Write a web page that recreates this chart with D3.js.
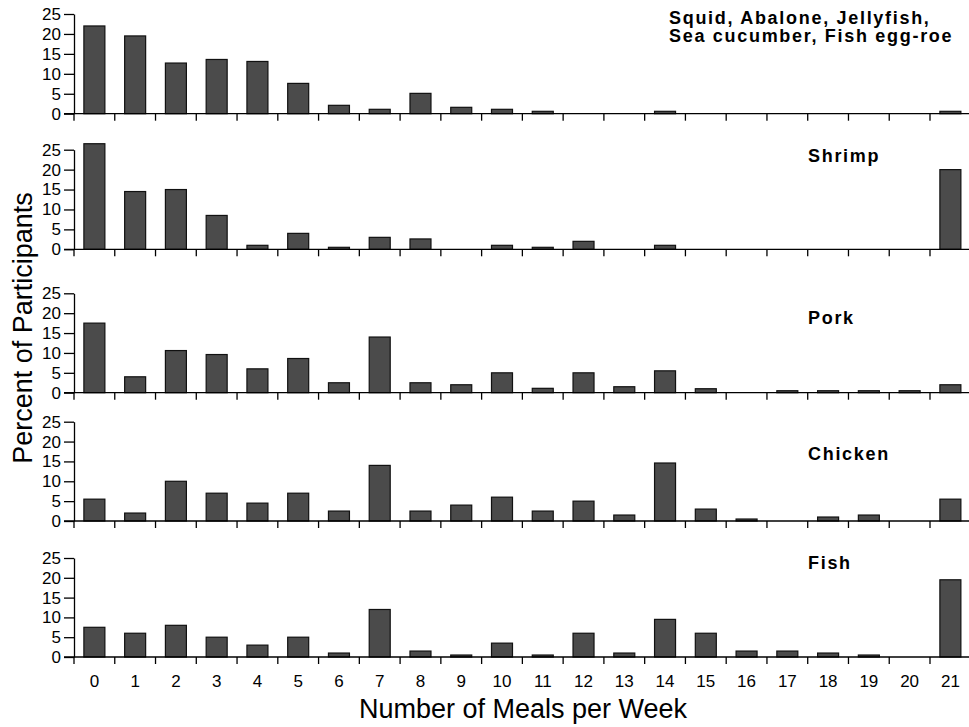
<!DOCTYPE html>
<html>
<head>
<meta charset="utf-8">
<script src="https://cdn.jsdelivr.net/npm/d3@7"></script>
<style>
  html, body { margin: 0; padding: 0; background: #fff; }
  svg { display: block; }
  text { font-family: "Liberation Sans", Arial, Helvetica, sans-serif; fill: #000; }
</style>
</head>
<body>
<svg id="chart" width="969" height="727"></svg>
<script>
// Meals per week (x categories)
const meals = d3.range(0, 22).map(String);
const yTicks = [0, 5, 10, 15, 20, 25];

// Percent of participants per number of meals per week
const squidEtc = [22, 19.5, 12.7, 13.6, 13.1, 7.6, 2.1, 1.1, 5.1, 1.6, 1.1, 0.6, 0, 0, 0.6, 0, 0, 0, 0, 0, 0, 0.6];
const shrimp   = [26.5, 14.5, 15, 8.5, 1, 4, 0.5, 3, 2.6, 0, 1, 0.5, 2, 0, 1, 0, 0, 0, 0, 0, 0, 20];
const pork     = [17.5, 4, 10.6, 9.6, 6, 8.6, 2.5, 14, 2.5, 2, 5, 1.1, 5, 1.5, 5.5, 1, 0, 0.5, 0.5, 0.5, 0.5, 2];
const chicken  = [5.5, 2, 10, 7, 4.5, 7, 2.5, 14, 2.5, 4, 6, 2.5, 5, 1.5, 14.6, 3, 0.5, 0, 1, 1.5, 0, 5.5];
const fish     = [7.5, 6, 8, 5, 3, 5, 1, 12, 1.5, 0.5, 3.5, 0.5, 6, 1, 9.5, 6, 1.5, 1.5, 1, 0.5, 0, 19.5];

const seriesNames = [["Squid, Abalone, Jellyfish,", "Sea cucumber, Fish egg-roe"], ["Shrimp"], ["Pork"], ["Chicken"], ["Fish"]];
const seriesValues = [squidEtc, shrimp, pork, chicken, fish];

// Vertical placement of each panel: pixel row of value 0 and value 25
const panelRows = [
  { base: 113.7, top: 14,    labelX: 669, labelY: 23.5 },
  { base: 249.3, top: 149.7, labelX: 808, labelY: 162 },
  { base: 392.7, top: 293.3, labelX: 808, labelY: 324 },
  { base: 521,   top: 421.7, labelX: 808, labelY: 460 },
  { base: 657,   top: 558,   labelX: 808, labelY: 569 }
];

const svg = d3.select("#chart");
const axisX = 74, rightX = 970.76;

const x = d3.scaleBand()
  .domain(meals)
  .range([axisX, rightX])
  .paddingInner(0.485)
  .paddingOuter(0.2425);
const gap = (x.step() - x.bandwidth()) / 2;

seriesValues.forEach((vals, i) => {
  const row = panelRows[i];
  const y = d3.scaleLinear().domain([0, 25]).range([row.base, row.top]);
  const g = svg.append("g");

  // bars
  g.selectAll("rect")
    .data(vals)
    .join("rect")
    .attr("x", (d, j) => x(meals[j]))
    .attr("y", d => y(d))
    .attr("width", x.bandwidth())
    .attr("height", d => y(0) - y(d))
    .attr("fill", "#4b4b4b")
    .attr("stroke", "#111")
    .attr("stroke-width", 1.2);

  // y axis
  const ya = g.append("g")
    .attr("transform", `translate(${axisX},0)`)
    .call(d3.axisLeft(y).tickValues(yTicks).tickSize(10).tickSizeOuter(0).tickPadding(3));
  ya.select(".domain").attr("stroke", "#000").attr("stroke-width", 1.3);
  ya.selectAll(".tick line").attr("stroke", "#000").attr("stroke-width", 1.3);
  ya.selectAll(".tick text")
    .style("font-family", "'Liberation Sans', Arial, sans-serif")
    .style("font-size", "17px")
    .attr("fill", "#000");

  // baseline
  g.append("line")
    .attr("x1", axisX - 10).attr("x2", rightX)
    .attr("y1", y(0)).attr("y2", y(0))
    .attr("stroke", "#000").attr("stroke-width", 1.3);

  // category boundary ticks
  g.selectAll("line.xt")
    .data(meals)
    .join("line")
    .attr("class", "xt")
    .attr("x1", d => x(d) - gap).attr("x2", d => x(d) - gap)
    .attr("y1", y(0)).attr("y2", y(0) + 7)
    .attr("stroke", "#000").attr("stroke-width", 1.3);

  // panel label
  const lbl = g.append("text")
    .attr("x", row.labelX).attr("y", row.labelY)
    .style("font-size", "18px")
    .style("font-weight", "bold")
    .style("letter-spacing", "1.7px");
  seriesNames[i].forEach((t, k) => {
    lbl.append("tspan").attr("x", row.labelX).attr("dy", k === 0 ? 0 : 18.5).text(t);
  });

  // x tick labels on the bottom panel
  if (i === seriesValues.length - 1) {
    const xa = g.append("g")
      .attr("transform", `translate(0,${y(0)})`)
      .call(d3.axisBottom(x).tickSize(0).tickPadding(18));
    xa.select(".domain").remove();
    xa.selectAll(".tick text")
      .style("font-family", "'Liberation Sans', Arial, sans-serif")
      .style("font-size", "17px")
      .attr("fill", "#000");
  }
});

// axis titles
svg.append("text")
  .attr("x", 523).attr("y", 718)
  .attr("text-anchor", "middle")
  .style("font-size", "27px")
  .text("Number of Meals per Week");

svg.append("text")
  .attr("transform", "translate(32,328) rotate(-90)")
  .attr("text-anchor", "middle")
  .style("font-size", "27px")
  .text("Percent of Participants");
</script>
</body>
</html>
